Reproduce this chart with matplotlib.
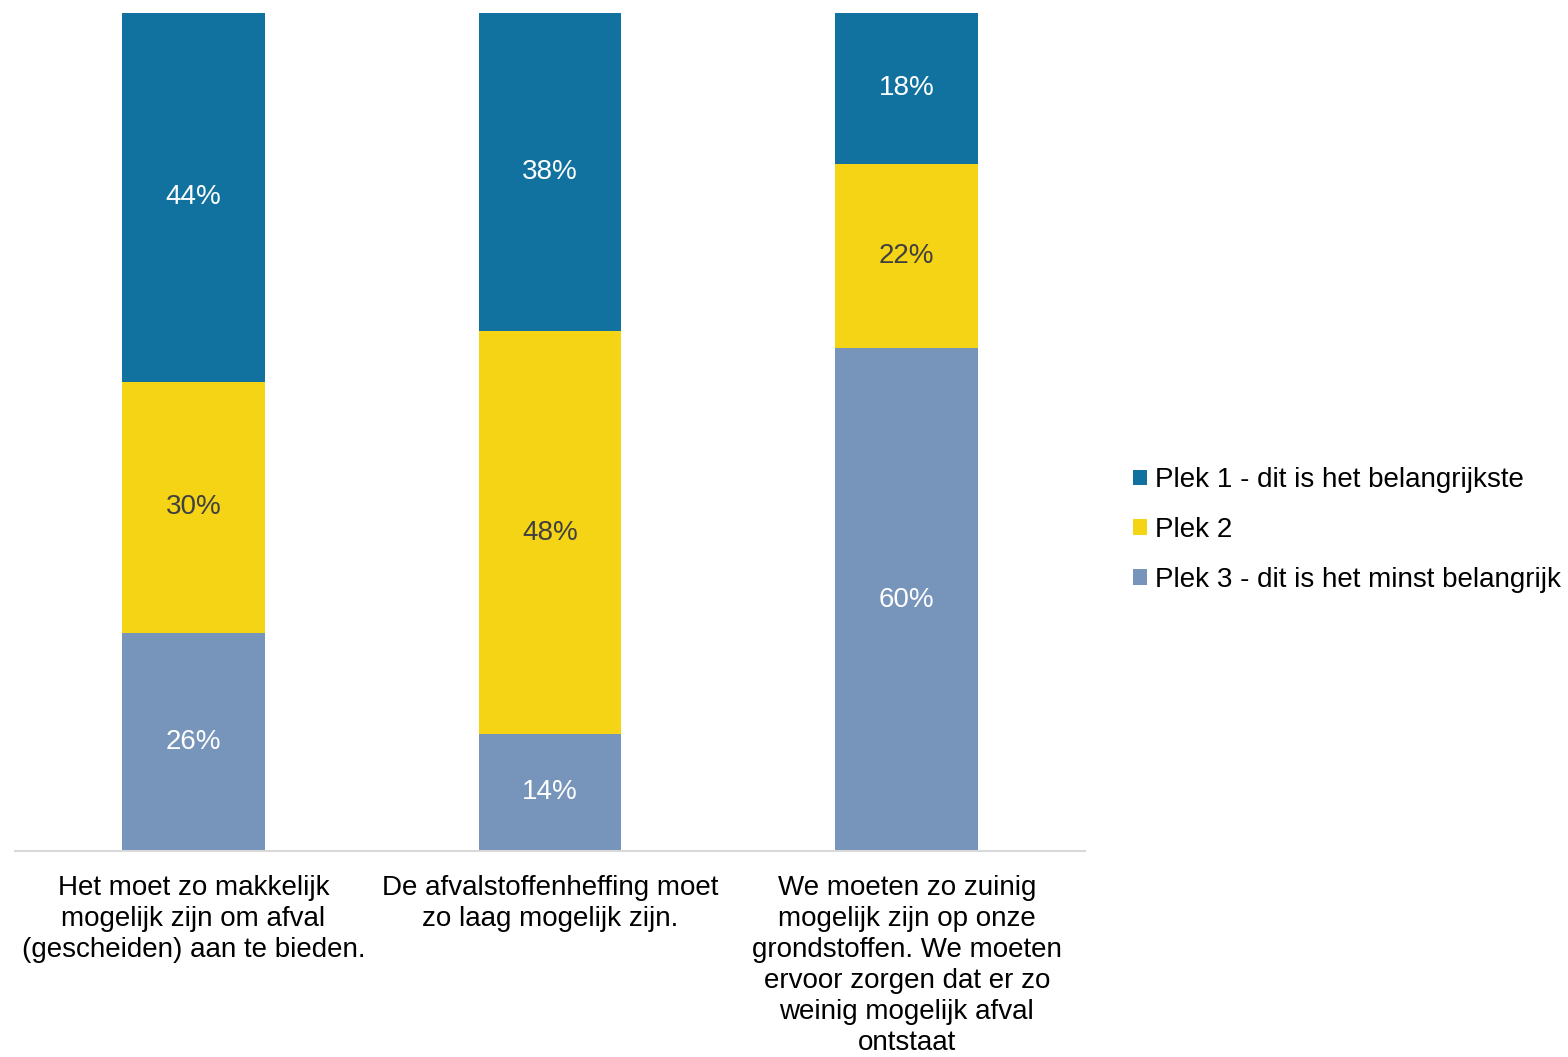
import matplotlib
matplotlib.use("Agg")
import matplotlib.pyplot as plt
import numpy as np

plt.rcParams["font.family"] = ["Liberation Sans", "DejaVu Sans"]

# data
categories = [
    "Het moet zo makkelijk\nmogelijk zijn om afval\n(gescheiden) aan te bieden.",
    "De afvalstoffenheffing moet\nzo laag mogelijk zijn.",
    "We moeten zo zuinig\nmogelijk zijn op onze\ngrondstoffen. We moeten\nervoor zorgen dat er zo\nweinig mogelijk afval\nontstaat",
]
series_names = [
    "Plek 1 - dit is het belangrijkste",
    "Plek 2",
    "Plek 3 - dit is het minst belangrijk",
]
plek1 = [44, 38, 18]
plek2 = [30, 48, 22]
plek3 = [26, 14, 60]

colors = ["#11729F", "#F5D415", "#7794BA"]
text_colors = ["white", "#404040", "white"]

fig = plt.figure(figsize=(15.68, 10.57), dpi=100)
ax = fig.add_axes([0.0096, 0.1949, 0.6824, 0.7928])

x = np.arange(len(categories))
width = 0.4
bottom = np.zeros(len(categories))
handles = []
# stacked from bottom: plek 3, plek 2, plek 1
for vals, name, col, tcol in reversed(list(zip([plek1, plek2, plek3], series_names, colors, text_colors))):
    vals = np.array(vals, dtype=float)
    b = ax.bar(x, vals, width, bottom=bottom, color=col, label=name)
    for xi, v, bt in zip(x, vals, bottom):
        ax.text(xi, bt + v / 2, f"{int(v)}%", ha="center", va="center",
                fontsize=20, color=tcol)
    bottom += vals
    handles.append(b)

ax.set_xlim(-0.5, 2.5)
ax.set_ylim(0, 100)
ax.set_xticks(x)
ax.set_xticklabels(categories, fontsize=20, linespacing=1.25)
ax.tick_params(axis="x", length=0, pad=17)
ax.set_yticks([])
for s in ["top", "right", "left"]:
    ax.spines[s].set_visible(False)
ax.spines["bottom"].set_color("#D9D9D9")
ax.spines["bottom"].set_linewidth(1.5)

h = handles[::-1]
fig.legend(h, series_names, loc="center left", bbox_to_anchor=(0.7065, 0.4986),
           frameon=False, fontsize=20, handlelength=0.5, handleheight=0.5,
           handletextpad=0.3, labelspacing=0.85)

fig.savefig("out.png", dpi=100)
